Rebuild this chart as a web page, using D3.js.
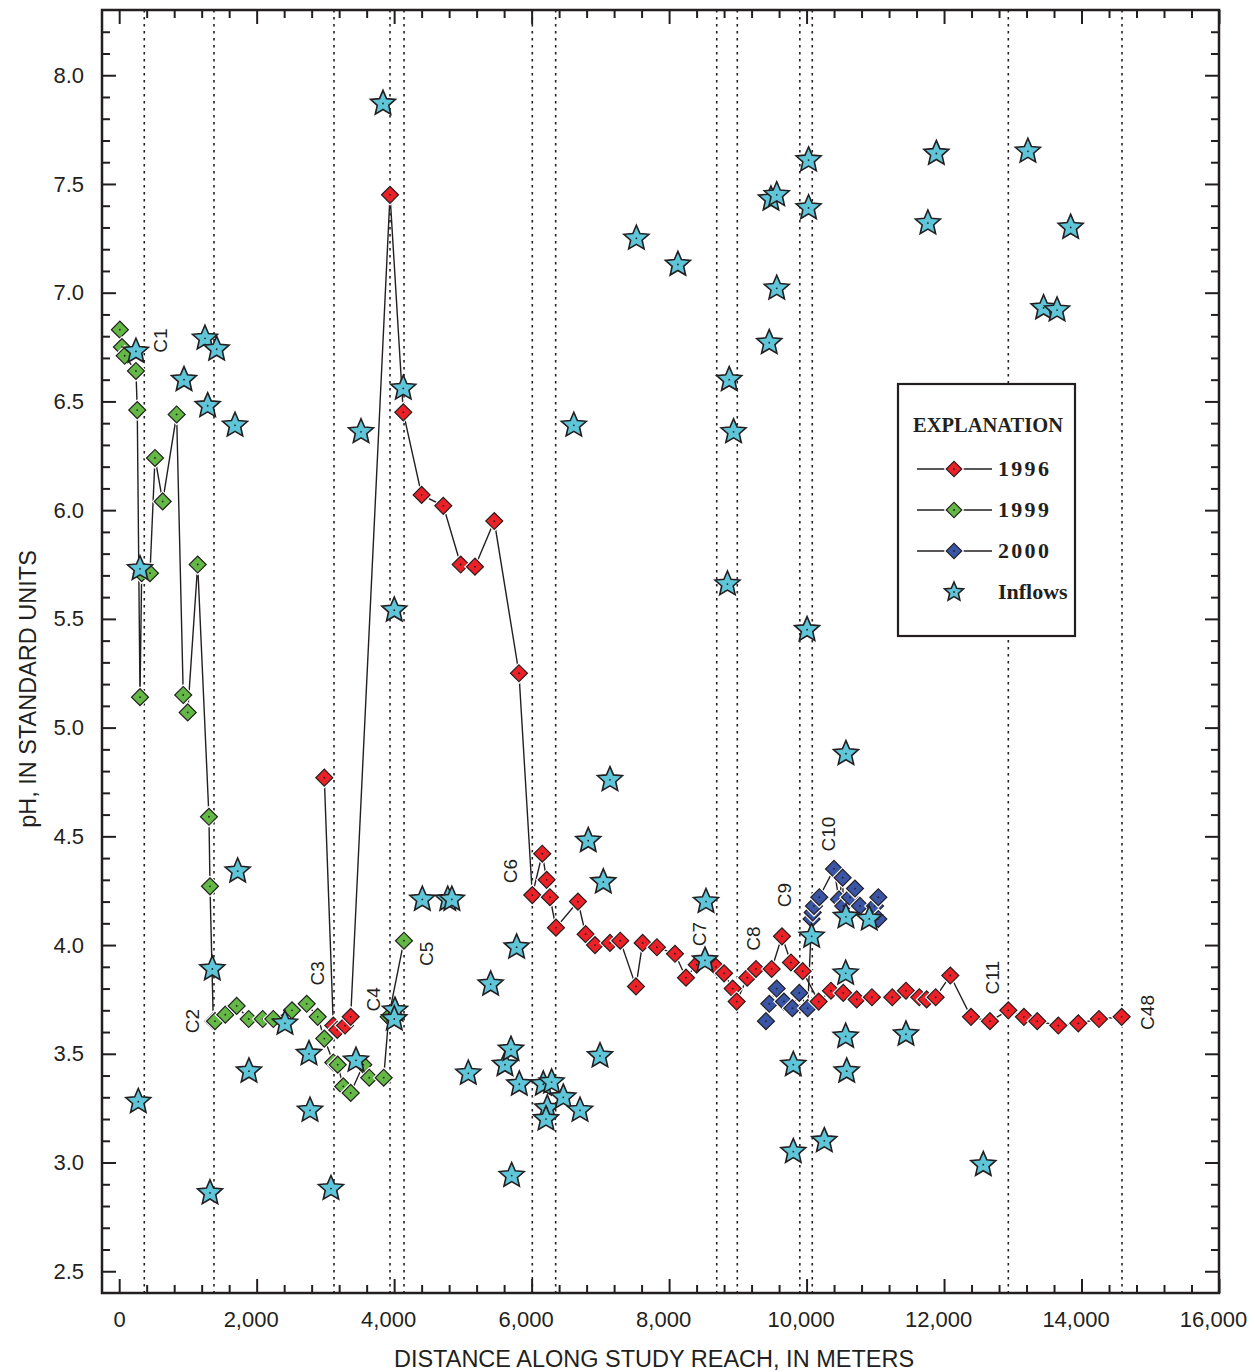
<!DOCTYPE html>
<html><head><meta charset="utf-8">
<script src="https://cdn.jsdelivr.net/npm/d3@7"></script>
<style>
html,body{margin:0;padding:0;background:#fff;}
svg{display:block;}
</style></head><body>
<svg id="chart" width="1255" height="1372"></svg>
<script>
// Synoptic pH profiles along the study reach (distance in meters)
const dist1996 = [2984,3115,3173,3285,3368,3940,4133,4400,4715,4968,5176,5457,5816,6010,6155,6219,6267,6354,6674,6786,6922,7140,7290,7518,7615,7823,8086,8246,8401,8682,8800,8925,8983,9137,9264,9492,9642,9773,9943,10176,10355,10534,10729,10951,11247,11446,11640,11747,11878,12091,12392,12668,12935,13162,13356,13662,13953,14254,14584];
const ph1996   = [4.77,3.63,3.61,3.63,3.67,7.45,6.45,6.07,6.02,5.75,5.74,5.95,5.25,4.23,4.42,4.30,4.22,4.08,4.20,4.05,4.00,4.01,4.02,3.81,4.01,3.99,3.96,3.85,3.91,3.90,3.87,3.80,3.74,3.85,3.89,3.89,4.04,3.92,3.88,3.74,3.79,3.78,3.75,3.76,3.76,3.79,3.76,3.75,3.76,3.86,3.67,3.65,3.70,3.67,3.65,3.63,3.64,3.66,3.67];

const dist1999 = [10,40,80,244,263,303,327,448,521,633,836,932,997,1142,1306,1321,1369,1394,1544,1709,1884,2088,2242,2514,2728,2888,2984,3115,3179,3260,3368,3551,3638,3848,3921,4143];
const ph1999   = [6.83,6.75,6.71,6.64,6.46,5.14,5.71,5.71,6.24,6.04,6.44,5.15,5.07,5.75,4.59,4.27,3.65,3.65,3.68,3.72,3.66,3.66,3.66,3.70,3.73,3.67,3.57,3.46,3.45,3.35,3.32,3.45,3.39,3.39,3.67,4.02];

const dist2000 = [9409,9458,9565,9671,9793,9894,10016,10073,10089,10108,10185,10399,10471,10525,10534,10632,10704,10777,10995,11044,11044];
const ph2000   = [3.65,3.73,3.80,3.74,3.71,3.78,3.71,4.12,4.15,4.18,4.22,4.35,4.21,4.31,4.18,4.22,4.26,4.18,4.18,4.22,4.12];

const distInflow = [244,303,278,943,1248,1287,1418,1685,1355,1321,1724,1888,2412,2761,2776,3081,3445,3518,3838,4002,4133,4012,4002,4410,4780,4840,5079,5404,5612,5700,5710,5782,5821,6170,6291,6228,6209,6461,6704,6614,6824,6995,7043,7140,7524,8128,8522,8537,8849,8875,8938,9457,9482,9566,9566,9807,9807,10007,10029,10029,10074,10258,10569,10569,10584,10573,10573,10912,11446,11765,11888,12571,13220,13448,13644,13842];
const phInflow   = [6.73,5.73,3.28,6.60,6.79,6.48,6.74,6.39,3.89,2.86,4.34,3.42,3.64,3.50,3.24,2.88,3.47,6.36,7.87,5.54,6.56,3.70,3.66,4.21,4.21,4.21,3.41,3.82,3.45,3.52,2.94,3.99,3.36,3.36,3.37,3.25,3.20,3.30,3.24,6.39,4.48,3.49,4.29,4.76,7.25,7.13,3.93,4.20,5.66,6.60,6.36,6.77,7.43,7.45,7.02,3.45,3.05,5.45,7.61,7.39,4.04,3.10,3.87,3.58,3.42,4.13,4.88,4.12,3.59,7.32,7.64,2.99,7.65,6.93,6.92,7.30];

// Sampling sites marked by dotted verticals
const siteNames    = ["C1","C2","C3","C4","C5","C6","C7","C8","C9","C10","C11","C48"];
const siteDist     = [365,1379,3125,3940,4144,6010,8693,8992,9902,10083,12935,14589];
const siteLabelPh  = [6.78,3.65,3.87,3.75,3.96,4.34,4.05,4.03,4.23,4.51,3.85,3.69];
const extraSiteDist = [6350];

const xTickValues = [0,2000,4000,6000,8000,10000,12000,14000,16000];
const yTickValues = [2.5,3.0,3.5,4.0,4.5,5.0,5.5,6.0,6.5,7.0,7.5,8.0];

const legendLabels = ["1996","1999","2000","Inflows"];

// ---- drawing ----
const INK = "#231f20";
const colors = {"1996":"#ec2027","1999":"#64b946","2000":"#3a55a6",inflow:"#5ec6d8"};
const pL = 102, pR = 1219, pT = 10, pB = 1293;
const SANS = "'Liberation Sans',Arial,sans-serif";
const SERIF = "'Liberation Serif','Times New Roman',serif";

const svg = d3.select("#chart");
const x = d3.scaleLinear().domain([-250,16000]).range([pL,pR]);
const y = d3.scaleLinear().domain([2.4,8.3]).range([pB,pT]);

const xMinor = d3.range(0,16001,400).filter(v => v % 2000 !== 0);
const yMinor = d3.range(25,83).map(i => i/10).filter(v => Math.abs(v*2 - Math.round(v*2)) > 1e-6);

function styleAxis(g){
  g.select(".domain").remove();
  g.selectAll(".tick line").attr("stroke",INK).attr("stroke-width",2);
  g.selectAll("text").attr("fill",INK).style("font-family",SANS).style("font-size","22px");
}

// bottom
svg.append("g").attr("transform",`translate(0,${pB})`)
  .call(d3.axisBottom(x).tickValues(xTickValues).tickSizeInner(-14).tickSizeOuter(0).tickPadding(18).tickFormat(d3.format(",")))
  .call(styleAxis)
  .call(g => g.selectAll(".tick text").attr("dx", d => d === 0 ? 0 : -6));
svg.append("g").attr("transform",`translate(0,${pB})`)
  .call(d3.axisBottom(x).tickValues(xMinor).tickSizeInner(-8).tickSizeOuter(0).tickFormat(""))
  .call(styleAxis);
// top
svg.append("g").attr("transform",`translate(0,${pT})`)
  .call(d3.axisTop(x).tickValues(xTickValues).tickSizeInner(-14).tickSizeOuter(0).tickFormat(""))
  .call(styleAxis);
svg.append("g").attr("transform",`translate(0,${pT})`)
  .call(d3.axisTop(x).tickValues(xMinor).tickSizeInner(-8).tickSizeOuter(0).tickFormat(""))
  .call(styleAxis);
// left
svg.append("g").attr("transform",`translate(${pL},0)`)
  .call(d3.axisLeft(y).tickValues(yTickValues).tickSizeInner(-14).tickSizeOuter(0).tickPadding(18).tickFormat(d3.format(".1f")))
  .call(styleAxis);
svg.append("g").attr("transform",`translate(${pL},0)`)
  .call(d3.axisLeft(y).tickValues(yMinor).tickSizeInner(-8).tickSizeOuter(0).tickFormat(""))
  .call(styleAxis);
// right
svg.append("g").attr("transform",`translate(${pR},0)`)
  .call(d3.axisRight(y).tickValues(yTickValues).tickSizeInner(-14).tickSizeOuter(0).tickFormat(""))
  .call(styleAxis);
svg.append("g").attr("transform",`translate(${pR},0)`)
  .call(d3.axisRight(y).tickValues(yMinor).tickSizeInner(-8).tickSizeOuter(0).tickFormat(""))
  .call(styleAxis);

// site verticals
svg.append("g").selectAll("line").data(siteDist.concat(extraSiteDist)).join("line")
  .attr("x1",d=>x(d)).attr("x2",d=>x(d)).attr("y1",pT).attr("y2",pB)
  .attr("stroke",INK).attr("stroke-width",1.6).attr("stroke-dasharray","2.5,4.5");

// site labels (offset to one side of their line)
const labelDx = {C1:16,C2:-22,C3:-17,C4:-17,C5:22,C6:-22,C7:-17,C8:16,C9:-15,C10:16,C11:-16,C48:25};
svg.append("g").selectAll("text").data(siteNames).join("text")
  .attr("transform",(d,i)=>`translate(${x(siteDist[i])+labelDx[d]},${y(siteLabelPh[i])}) rotate(-90)`)
  .attr("text-anchor","middle").attr("dy","0.35em")
  .style("font-family",SANS).style("font-size","19px")
  .attr("fill",INK).text(d=>d);

// frame
svg.append("rect").attr("x",pL).attr("y",pT).attr("width",pR-pL).attr("height",pB-pT)
  .attr("fill","none").attr("stroke",INK).attr("stroke-width",2.5);

// series lines
const line = d3.line().x(d=>x(d[0])).y(d=>y(d[1]));
const series = [
  {key:"1999", pts:d3.zip(dist1999,ph1999)},
  {key:"2000", pts:d3.zip(dist2000,ph2000)},
  {key:"1996", pts:d3.zip(dist1996,ph1996)}
];
svg.append("g").selectAll("path").data(series).join("path")
  .attr("d",s=>line(s.pts)).attr("fill","none").attr("stroke",INK).attr("stroke-width",1.4);

// markers
const diamond = d3.symbol().type(d3.symbolSquare).size(144);
const diamondHalo = d3.symbol().type(d3.symbolSquare).size(240);
const starType = {
  draw(ctx,size){
    const r = Math.sqrt(size), ri = r*0.46;
    for(let k=0;k<10;k++){
      const a = -Math.PI/2 + k*Math.PI/5, rr = k%2 ? ri : r;
      const px = rr*Math.cos(a), py = rr*Math.sin(a);
      k ? ctx.lineTo(px,py) : ctx.moveTo(px,py);
    }
    ctx.closePath();
  }
};
const star = d3.symbol().type(starType).size(172);

function drawDiamond(g, cx, cy, fill, sym, halo){
  const m = g.append("g").attr("transform",`translate(${cx},${cy})`);
  m.append("path").attr("d",halo()).attr("transform","rotate(45)").attr("fill","#fff");
  m.append("path").attr("d",sym()).attr("transform","rotate(45)").attr("fill",fill).attr("stroke",INK).attr("stroke-width",1.2);
  m.append("circle").attr("r",0.9).attr("fill",INK);
}
function drawStar(g, cx, cy, sym){
  const m = g.append("g").attr("transform",`translate(${cx},${cy})`);
  m.append("path").attr("d",sym()).attr("fill",colors.inflow).attr("stroke",INK).attr("stroke-width",1.6).attr("stroke-linejoin","miter");
  m.append("circle").attr("r",0.9).attr("fill",INK);
}

const gm = svg.append("g");
series.forEach(s => s.pts.forEach(p => drawDiamond(gm, x(p[0]), y(p[1]), colors[s.key], diamond, diamondHalo)));
const gs = svg.append("g");
d3.zip(distInflow,phInflow).forEach(p => drawStar(gs, x(p[0]), y(p[1]), star));

// axis titles
svg.append("text").attr("transform",`translate(36,689) rotate(-90)`).attr("text-anchor","middle")
  .style("font-family",SANS).style("font-size","23.5px").attr("fill",INK)
  .text("pH, IN STANDARD UNITS");
svg.append("text").attr("x",654).attr("y",1367).attr("text-anchor","middle")
  .style("font-family",SANS).style("font-size","23.5px").attr("fill",INK)
  .text("DISTANCE ALONG STUDY REACH, IN METERS");

// legend
const lg = svg.append("g");
lg.append("rect").attr("x",898).attr("y",384).attr("width",177).attr("height",252)
  .attr("fill","#fff").attr("stroke",INK).attr("stroke-width",2.2);
lg.append("text").attr("x",988).attr("y",432).attr("text-anchor","middle")
  .style("font-family",SERIF).style("font-size","20.5px").style("font-weight","bold")
  .attr("fill",INK).text("EXPLANATION");
const legendRowY = [469,510,551,592];
const smallDiamond = d3.symbol().type(d3.symbolSquare).size(120);
const smallHalo = d3.symbol().type(d3.symbolSquare).size(210);
const smallStar = d3.symbol().type(starType).size(100);
legendLabels.forEach((lab,i) => {
  const cy = legendRowY[i];
  if (lab !== "Inflows") {
    lg.append("line").attr("x1",917).attr("x2",992).attr("y1",cy).attr("y2",cy).attr("stroke",INK).attr("stroke-width",1.6);
    drawDiamond(lg, 954, cy, colors[lab], smallDiamond, smallHalo);
  } else {
    drawStar(lg, 954, cy, smallStar);
  }
  lg.append("text").attr("x",998).attr("y",cy+7)
    .style("font-family",SERIF).style("font-size","22px").style("font-weight","bold")
    .style("letter-spacing", lab === "Inflows" ? "0px" : "2.3px")
    .attr("fill",INK).text(lab);
});
</script>
</body></html>
